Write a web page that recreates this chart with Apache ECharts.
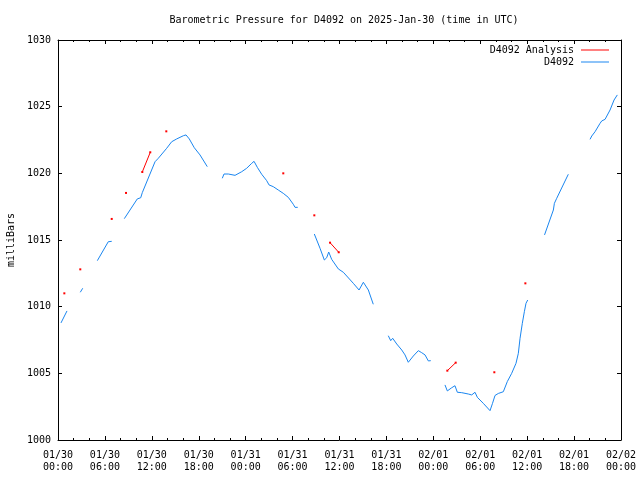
<!DOCTYPE html>
<html>
<head>
<meta charset="utf-8">
<script src="https://cdn.jsdelivr.net/npm/echarts@6/dist/echarts.min.js"></script>
<style>
html,body{margin:0;padding:0;background:#fff;}
#chart{width:640px;height:480px;}
</style>
</head>
<body>
<div id="chart"></div>
<script>
// Hours since 2025-01-30 00:00 UTC; null pressure = gap in the record
const blueHours = [
  0.38, 1.15, 1.9,
  2.85, 3.16, 4.0,
  5.03, 6.43, 6.87, 7.6,
  8.48, 10.14, 10.58, 10.78, 12.41, 12.83, 13.9, 14.54, 15.18, 16.03, 16.37, 16.79, 17.43, 18.16, 19.09, 20.0,
  21.01, 21.23, 21.78, 22.0, 22.64, 23.49, 24.13, 24.77, 25.07, 25.49, 26.05, 26.69, 26.99, 27.53, 28.17, 28.81, 29.45, 30.09, 30.31, 30.66, 31.7,
  32.78, 33.51, 34.06, 34.36, 34.62, 35.0, 35.85, 36.49, 37.77, 38.5, 39.05, 39.69, 40.32, 41.3,
  42.24, 42.55, 42.8, 43.32, 43.96, 44.38, 44.8, 45.44, 46.08, 46.51, 46.94, 47.16, 47.36, 47.67, 48.6,
  49.49, 49.79, 50.35, 50.77, 51.07, 51.63, 52.47, 52.91, 53.33, 53.63, 54.39, 55.25, 55.38, 55.57, 55.89, 56.31, 56.95, 57.17, 57.46, 58.02, 58.57, 58.87, 59.09, 59.38, 59.64, 59.85, 60.07, 61.1,
  62.22, 63.35, 63.48, 63.78, 65.26, 66.6,
  68.04, 68.26, 68.68, 69.32, 69.54, 69.96, 70.6, 71.11, 71.53
];
const bluePressure = [
  1008.78, 1009.68, null,
  1011.08, 1011.38, null,
  1013.45, 1014.87, 1014.9, null,
  1016.6, 1018.08, 1018.17, 1018.55, 1020.87, 1021.13, 1021.88, 1022.37, 1022.58, 1022.82, 1022.88, 1022.58, 1021.92, 1021.38, 1020.5, null,
  1019.63, 1019.95, 1019.95, 1019.85, 1019.85, 1020.12, 1020.38, 1020.75, 1020.9, 1020.45, 1019.93, 1019.45, 1019.13, 1019.0, 1018.75, 1018.5, 1018.2, 1017.68, 1017.45, 1017.45, null,
  1015.45, 1014.38, 1013.5, 1013.67, 1014.1, 1013.55, 1012.83, 1012.58, 1011.75, 1011.25, 1011.83, 1011.25, 1010.18, null,
  1007.82, 1007.45, 1007.63, 1007.2, 1006.75, 1006.38, 1005.83, 1006.3, 1006.7, 1006.55, 1006.38, 1006.25, 1005.93, 1005.95, null,
  1004.13, 1003.68, 1003.92, 1004.07, 1003.58, 1003.55, 1003.45, 1003.38, 1003.58, 1003.2, 1002.75, 1002.2, 1002.06, 1002.75, 1003.34, 1003.49, 1003.62, 1003.75, 1004.38, 1005.0, 1005.75, 1006.5, 1007.63, 1008.75, 1009.62, 1010.25, 1010.5, null,
  1015.38, 1017.25, 1017.75, 1018.13, 1019.93, null,
  1022.55, 1022.8, 1023.12, 1023.75, 1023.93, 1024.05, 1024.75, 1025.5, 1025.88
];
const redHours = [0.81, 1.8, 2.85, 4.8, 6.87, 7.8, 8.7, 9.7, 10.78, 11.8, 12.8, 13.85, 20.0, 28.81, 30.8, 32.78, 33.8, 34.79, 35.9, 42.0, 49.79, 50.86, 53.0, 55.8, 57.8, 59.77];
const redPressure = [1011.0, null, 1012.8, null, 1016.58, null, 1018.53, null, 1020.1, 1021.58, null, 1023.15, null, 1020.0, null, 1016.85, null, 1014.8, 1014.08, null, 1005.2, 1005.8, null, 1005.08, null, 1011.75];
const xTickLabels = ['01/30\n00:00','01/30\n06:00','01/30\n12:00','01/30\n18:00','01/31\n00:00','01/31\n06:00','01/31\n12:00','01/31\n18:00','02/01\n00:00','02/01\n06:00','02/01\n12:00','02/01\n18:00','02/02\n00:00'];
const yTicks = [1000, 1005, 1010, 1015, 1020, 1025, 1030];

const FONT = '"DejaVu Sans Mono", monospace';
const zip = (xs, ys) => xs.map((x, i) => [x, ys[i] === null ? null : ys[i]]);

const chart = echarts.init(document.getElementById('chart'), null, {renderer: 'canvas'});
const xCommon = {
  type: 'value', min: 0, max: 72, interval: 6,
  axisLine: {show: true, onZero: false, lineStyle: {color: '#000', width: 1}},
  axisTick: {show: true, inside: true, length: 4, lineStyle: {color: '#000'}},
  minorTick: {show: true, splitNumber: 3, length: 2, lineStyle: {color: '#000'}},
  splitLine: {show: false}, minorSplitLine: {show: false}
};
const yCommon = {
  type: 'value', min: yTicks[0], max: yTicks[yTicks.length - 1], interval: 5,
  axisLine: {show: true, onZero: false, lineStyle: {color: '#000', width: 1}},
  axisTick: {show: true, inside: true, length: 4, lineStyle: {color: '#000'}},
  splitLine: {show: false}
};
const legendCommon = {
  orient: 'vertical', align: 'right', right: 31, padding: 0,
  itemWidth: 28, itemHeight: 1, itemGap: 0,
  textStyle: {fontFamily: FONT, fontSize: 10, color: '#000', padding: [0, 2, 0, 0]},
  selectedMode: false
};
chart.setOption({
  animation: false,
  backgroundColor: '#fff',
  title: {
    text: 'Barometric Pressure for D4092 on 2025-Jan-30 (time in UTC)',
    left: 339, top: 10, textAlign: 'center',
    textStyle: {fontFamily: FONT, fontSize: 10, fontWeight: 'normal', color: '#000'}
  },
  legend: [
    Object.assign({}, legendCommon, {top: 45, data: [{name: 'D4092 Analysis', icon: 'rect'}]}),
    Object.assign({}, legendCommon, {top: 57, data: [{name: 'D4092', icon: 'rect'}]})
  ],
  grid: {left: 58, right: 19, top: 40, bottom: 40, containLabel: false, outerBoundsMode: 'none'},
  xAxis: [
    Object.assign({}, xCommon, {
      position: 'bottom',
      axisLabel: {
        show: true, margin: 9, lineHeight: 12,
        fontFamily: FONT, fontSize: 10, color: '#000',
        formatter: v => xTickLabels[Math.round(v / 6)] || ''
      }
    }),
    Object.assign({}, xCommon, {position: 'top', axisLabel: {show: false}})
  ],
  yAxis: [
    Object.assign({}, yCommon, {
      position: 'left',
      name: 'milliBars', nameLocation: 'middle', nameGap: 41, nameRotate: 90,
      nameTextStyle: {fontFamily: FONT, fontSize: 10, color: '#000'},
      axisLabel: {show: true, margin: 7, fontFamily: FONT, fontSize: 10, color: '#000',
        formatter: v => String(v)}
    }),
    Object.assign({}, yCommon, {position: 'right', axisLabel: {show: false}})
  ],
  series: [
    {
      name: 'D4092 Analysis', type: 'line', xAxisIndex: 0, yAxisIndex: 0,
      data: zip(redHours, redPressure),
      connectNulls: false, showSymbol: true, showAllSymbol: true,
      symbol: 'rect', symbolSize: 2,
      itemStyle: {color: '#ff0000'},
      lineStyle: {color: '#ff0000', width: 1},
      emphasis: {disabled: true}, z: 3
    },
    {
      name: 'D4092', type: 'line', xAxisIndex: 0, yAxisIndex: 0,
      data: zip(blueHours, bluePressure),
      connectNulls: false, showSymbol: false,
      itemStyle: {color: '#1a86f0'},
      lineStyle: {color: '#1a86f0', width: 1},
      emphasis: {disabled: true}, z: 2
    }
  ]
});
</script>
</body>
</html>
